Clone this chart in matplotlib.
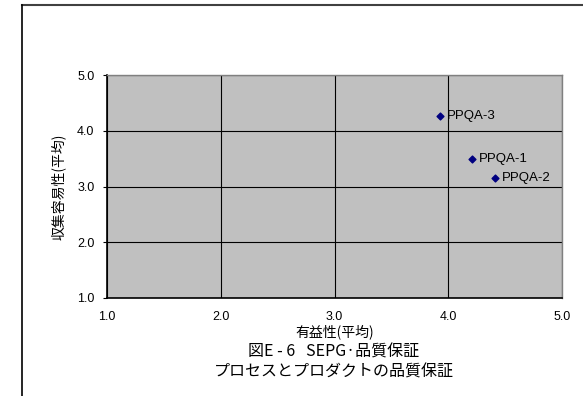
import matplotlib
matplotlib.use("Agg")
import matplotlib.pyplot as plt
from matplotlib.lines import Line2D

plt.rcParams['font.family'] = ['Liberation Sans', 'Noto Sans CJK JP', 'DejaVu Sans']

labels = ["PPQA-1", "PPQA-2", "PPQA-3"]
usefulness = [4.21, 4.41, 3.93]
ease = [3.49, 3.16, 4.27]
ticks = [1.0, 2.0, 3.0, 4.0, 5.0]
tick_labels = ["1.0", "2.0", "3.0", "4.0", "5.0"]

W, H = 583, 396
fig = plt.figure(figsize=(W / 100, H / 100), dpi=100)
fig.patch.set_facecolor("white")

l, r, t, b = 107, 562, 75, 298
ax = fig.add_axes([l / W, 1 - b / H, (r - l) / W, (b - t) / H])
ax.set_facecolor("#C0C0C0")
ax.set_xlim(1, 5)
ax.set_ylim(1, 5)
ax.set_xticks(ticks)
ax.set_xticklabels(tick_labels)
ax.set_yticks(ticks)
ax.set_yticklabels(tick_labels)
ax.grid(True, color="black", linewidth=0.8)
ax.set_axisbelow(True)
for s in ["top", "right"]:
    ax.spines[s].set_color("#808080")
    ax.spines[s].set_linewidth(1.0)
for s in ["left", "bottom"]:
    ax.spines[s].set_color("black")
    ax.spines[s].set_linewidth(1.2)
ax.tick_params(axis="x", length=0, pad=9, labelsize=9)
ax.tick_params(axis="y", length=3, direction="out", pad=6, labelsize=9)

ax.scatter(usefulness, ease, marker="D", s=12, color="#000080", zorder=3)
for x, y, name in zip(usefulness, ease, labels):
    ax.annotate(name, (x, y), xytext=(5, 0), textcoords="offset points",
                va="center", ha="left", fontsize=9.5)

ax.set_xlabel("有益性(平均)", fontsize=10, labelpad=1,
              family=['Noto Sans CJK JP', 'DejaVu Sans'])
ax.set_ylabel("収集容易性(平均)", fontsize=10, labelpad=8,
              family=['Noto Sans CJK JP', 'DejaVu Sans'])

fig.text(334 / W, 1 - 352 / H, "図E - 6   SEPG·品質保証", ha="center", va="center",
         fontsize=11.5, family=['Noto Sans CJK JP', 'DejaVu Sans'])
fig.text(334 / W, 1 - 372 / H, "プロセスとプロダクトの品質保証", ha="center", va="center",
         fontsize=11.5, family=['Noto Sans CJK JP', 'DejaVu Sans'])

# outer frame (top and left edges visible)
fig.add_artist(Line2D([22 / W, 1.0], [1 - 5 / H, 1 - 5 / H], color="#404040", linewidth=1.5,
                      transform=fig.transFigure))
fig.add_artist(Line2D([22 / W, 22 / W], [1 - 5 / H, 0], color="black", linewidth=1.2,
                      transform=fig.transFigure))

fig.savefig("out.png", dpi=100)
